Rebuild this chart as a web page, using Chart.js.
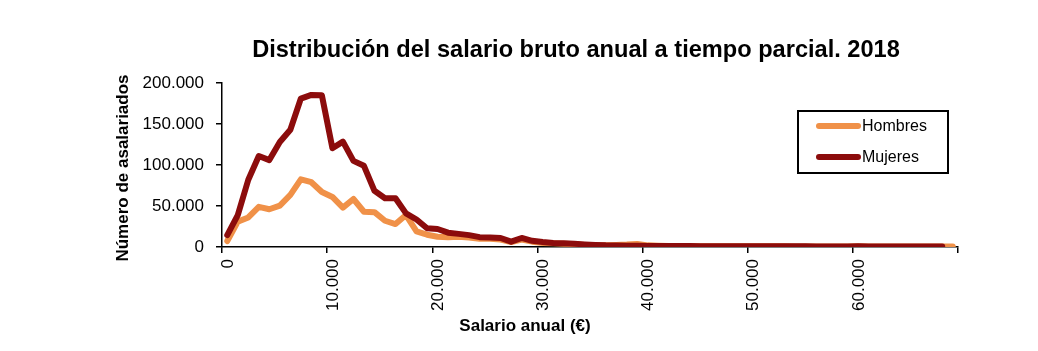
<!DOCTYPE html>
<html>
<head>
<meta charset="utf-8">
<script src="https://cdn.jsdelivr.net/npm/chart.js@4/dist/chart.umd.min.js"></script>
<style>
  html, body { margin: 0; padding: 0; background: #fff; }
  #wrap { position: relative; width: 1038px; height: 351px; }
</style>
</head>
<body>
<div id="wrap"><canvas id="myChart"></canvas></div>
<script>
const titulo = 'Distribución del salario bruto anual a tiempo parcial. 2018'
const tituloX = 'Salario anual (€)'
const tituloY = 'Número de asalariados'

// punto medio de cada tramo de 1.000 euros
const salario = [500, 1500, 2500, 3500, 4500, 5500, 6500, 7500, 8500, 9500,
    10500, 11500, 12500, 13500, 14500, 15500, 16500, 17500, 18500, 19500,
    20500, 21500, 22500, 23500, 24500, 25500, 26500, 27500, 28500, 29500,
    30500, 31500, 32500, 33500, 34500, 35500, 36500, 37500, 38500, 39500,
    40500, 41500, 42500, 43500, 44500, 45500, 46500, 47500, 48500, 49500,
    50500, 51500, 52500, 53500, 54500, 55500, 56500, 57500, 58500, 59500,
    60500, 61500, 62500, 63500, 64500, 65500, 66500, 67500, 68500, 69500]

const hombres = [7300, 31000, 36000, 49000, 46000, 50500, 63500, 82500, 79000, 67000,
    61000, 48000, 58500, 43000, 42500, 32000, 28000, 39000, 19000, 15000,
    12500, 12000, 12500, 11500, 10000, 10000, 9000, 6000, 9000, 6500,
    5000, 4500, 4000, 3500, 2500, 2000, 2000, 2500, 3000, 3800,
    2000, 1500, 1200, 1100, 1000, 1000, 1000, 900, 900, 900,
    800, 800, 800, 800, 700, 700, 700, 700, 700, 700,
    800, 700, 600, 600, 600, 500, 500, 500, 500, 600]

const mujeres = [14500, 39000, 82000, 111000, 106000, 128000, 143000, 181000, 185500, 185000,
    120500, 128500, 105000, 99000, 68500, 59500, 59500, 41000, 33500, 22800,
    22000, 17500, 16000, 14500, 12000, 11500, 11000, 6500, 11000, 7500,
    6000, 5000, 4500, 4000, 3200, 2500, 2000, 1800, 1500, 1500,
    1300, 1200, 1200, 1100, 1100, 1000, 1000, 1000, 1000, 900,
    900, 900, 800, 800, 800, 800, 700, 700, 700, 700,
    800, 700, 700, 600, 600, 600, 500, 500, 500]

const ticksY = [0, 50000, 100000, 150000, 200000]
const ticksX = [0, 10000, 20000, 30000, 40000, 50000, 60000, 70000]

const naranja = 'rgb(240, 145, 72)'
const granate = 'rgb(140, 12, 12)'
const fuente = "Arial, 'Liberation Sans', sans-serif"

function miles(v) {
    return String(v).replace(/\B(?=(\d{3})+(?!\d))/g, '.')
}

function puntos(valores) {
    return valores.map((v, i) => ({x: salario[i], y: v}))
}

// titulos y leyenda dibujados a mano, como en el grafico original
const textos = {
    id: 'textos',
    afterDraw(chart) {
        const ctx = chart.ctx
        ctx.save()
        ctx.fillStyle = '#000'
        ctx.textAlign = 'center'
        ctx.textBaseline = 'alphabetic'
        ctx.font = 'bold 23.6px ' + fuente
        ctx.fillText(titulo, 576, 57)
        ctx.font = 'bold 17px ' + fuente
        ctx.fillText(tituloX, 525, 331)
        ctx.save()
        ctx.translate(128, 168)
        ctx.rotate(-Math.PI / 2)
        ctx.fillText(tituloY, 0, 0)
        ctx.restore()

        // leyenda
        ctx.strokeStyle = '#000'
        ctx.lineWidth = 2
        ctx.strokeRect(798, 111, 150, 62)
        const items = [['Hombres', naranja, 126], ['Mujeres', granate, 157]]
        ctx.lineCap = 'round'
        ctx.font = '16px ' + fuente
        ctx.textAlign = 'left'
        ctx.textBaseline = 'middle'
        items.forEach(it => {
            ctx.strokeStyle = it[1]
            ctx.lineWidth = 6
            ctx.beginPath()
            ctx.moveTo(819, it[2])
            ctx.lineTo(858, it[2])
            ctx.stroke()
            ctx.fillStyle = '#000'
            ctx.fillText(it[0], 862, it[2] + 1)
        })
        ctx.restore()
    }
}

const ctx = document.getElementById('myChart').getContext('2d')
const myChart = new Chart(ctx, {
    type: 'line',
    data: {
        datasets: [
            {
                label: 'Hombres',
                data: puntos(hombres),
                borderColor: naranja,
                borderWidth: 6,
                order: 1
            },
            {
                label: 'Mujeres',
                data: puntos(mujeres),
                borderColor: granate,
                borderWidth: 6,
                order: 0
            }
        ]
    },
    plugins: [textos],
    options: {
        responsive: true,
        maintainAspectRatio: false,
        animation: false,
        layout: { padding: { left: 0, top: 83, right: 80, bottom: 0 } },
        elements: {
            point: { radius: 0 },
            line: { tension: 0, borderJoinStyle: 'round', borderCapStyle: 'round' }
        },
        plugins: {
            legend: { display: false },
            title: { display: false },
            tooltip: { enabled: false }
        },
        scales: {
            x: {
                type: 'linear',
                min: 0,
                max: 70000,
                afterBuildTicks: s => { s.ticks = ticksX.map(v => ({value: v})) },
                afterFit: s => {
                    s.height = 104
                    s.paddingLeft = 0
                    s.paddingRight = 0
                },
                grid: { display: true, drawOnChartArea: false, drawTicks: true, tickLength: 6, color: '#000', lineWidth: 1.5 },
                border: { display: true, color: '#000', width: 1.5 },
                ticks: {
                    autoSkip: false,
                    minRotation: 90,
                    maxRotation: 90,
                    padding: 6,
                    labelOffset: 6,
                    color: '#000',
                    font: { family: fuente, size: 17 },
                    callback: v => v == 70000 ? '' : miles(v)
                }
            },
            y: {
                min: 0,
                max: 200000,
                afterBuildTicks: s => { s.ticks = ticksY.map(v => ({value: v})) },
                afterFit: s => {
                    s.width = 222
                    s.paddingTop = 0
                    s.paddingBottom = 0
                },
                grid: { display: true, drawOnChartArea: false, drawTicks: true, tickLength: 6, color: '#000', lineWidth: 1.5 },
                border: { display: true, color: '#000', width: 1.5 },
                ticks: {
                    padding: 12,
                    color: '#000',
                    font: { family: fuente, size: 17 },
                    callback: v => miles(v)
                }
            }
        }
    }
})
</script>
</body>
</html>
